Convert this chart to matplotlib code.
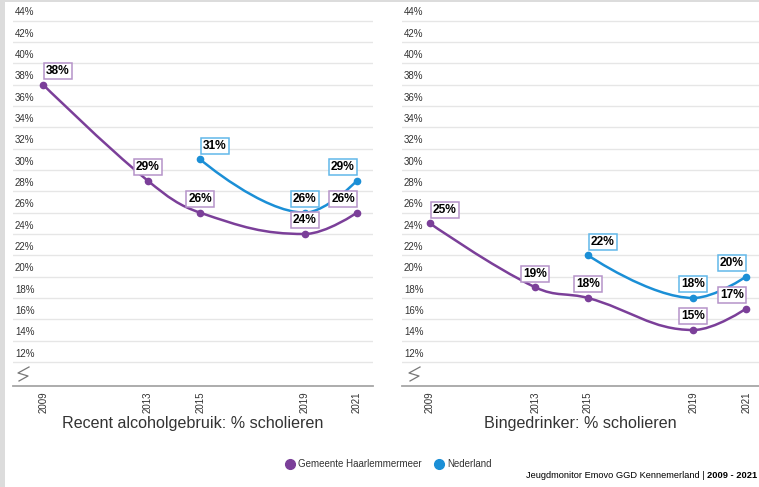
import matplotlib
matplotlib.use("Agg")
import matplotlib.pyplot as plt
from matplotlib.path import Path
from matplotlib.patches import PathPatch, Rectangle
from matplotlib.lines import Line2D
import matplotlib.transforms as mtransforms

plt.rcParams["font.family"] = ["Liberation Sans", "DejaVu Sans"]

# data
years = [2009, 2013, 2015, 2019, 2021]
nl_years = [2015, 2019, 2021]
hm_alcohol = [38, 29, 26, 24, 26]
nl_alcohol = [31, 26, 29]
hm_binge = [25, 19, 18, 15, 17]
nl_binge = [22, 18, 20]
yticks = list(range(12, 46, 2))
titles = ["Recent alcoholgebruik: % scholieren", "Bingedrinker: % scholieren"]
series_names = ["Gemeente Haarlemmermeer", "Nederland"]

PURPLE = "#7b3f99"
PURPLE_BOX = "#b593c9"
BLUE = "#1b8fd6"
BLUE_BOX = "#62b8e9"
TXT = "#333333"

W, H = 759, 487


def spline_path(xs, ys, smoothing=1.5):
    """Highcharts style spline as cubic bezier path."""
    n = len(xs)
    left, right = [None] * n, [None] * n
    denom = smoothing + 1
    for i in range(1, n - 1):
        px, py = xs[i], ys[i]
        lx, ly = xs[i - 1], ys[i - 1]
        nx, ny = xs[i + 1], ys[i + 1]
        lcx = (smoothing * px + lx) / denom
        lcy = (smoothing * py + ly) / denom
        rcx = (smoothing * px + nx) / denom
        rcy = (smoothing * py + ny) / denom
        corr = 0.0
        if rcx != lcx:
            corr = (rcy - lcy) * (rcx - px) / (rcx - lcx) + py - rcy
        lcy += corr
        rcy += corr
        if lcy > ly and lcy > py:
            lcy = max(ly, py)
            rcy = 2 * py - lcy
        elif lcy < ly and lcy < py:
            lcy = min(ly, py)
            rcy = 2 * py - lcy
        if rcy > ny and rcy > py:
            rcy = max(ny, py)
            lcy = 2 * py - rcy
        elif rcy < ny and rcy < py:
            rcy = min(ny, py)
            lcy = 2 * py - rcy
        left[i] = (lcx, lcy)
        right[i] = (rcx, rcy)
    verts = [(xs[0], ys[0])]
    codes = [Path.MOVETO]
    for i in range(1, n):
        c1 = right[i - 1] or (xs[i - 1], ys[i - 1])
        c2 = left[i] or (xs[i], ys[i])
        verts += [c1, c2, (xs[i], ys[i])]
        codes += [Path.CURVE4] * 3
    return Path(verts, codes)


def draw_series(ax, xs, ys, color, boxcolor):
    ax.add_patch(PathPatch(spline_path(xs, ys), fill=False, edgecolor=color,
                           lw=1.8, zorder=3, capstyle="round"))
    ax.plot(xs, ys, "o", color=color, ms=4.5, zorder=4)
    for i, (x, y) in enumerate(zip(xs, ys)):
        if i == 0:
            ha, dx = "left", 2.0
        elif i == len(xs) - 1:
            ha, dx = "right", -1.5
        else:
            ha, dx = "center", 0
        ax.annotate(f"{y}%", (x, y), xytext=(dx, 5.5), textcoords="offset points",
                    ha=ha, va="bottom", fontsize=8.6, fontweight="bold", color="black",
                    zorder=5,
                    bbox=dict(boxstyle="square,pad=0.17", fc="white", ec=boxcolor, lw=1.1))


fig = plt.figure(figsize=(W / 100, H / 100), dpi=100, facecolor="#dcdcdc")
fig.add_artist(Rectangle((5 / W, 0), 1, 1 - 2 / H, transform=fig.transFigure,
                         fc="white", ec="none", zorder=0))

panels = [
    (13, 373, 2007.85, 2021.61, hm_alcohol, nl_alcohol),
    (402, 759, 2007.94, 2021.49, hm_binge, nl_binge),
]
for k, (x0, x1, xmin, xmax, hm, nl) in enumerate(panels):
    ax = fig.add_axes([x0 / W, (H - 386) / H, (x1 - x0) / W, 376 / H])
    ax.patch.set_alpha(0)
    ax.set_xlim(xmin, xmax)
    ax.set_ylim(9.75, 45.0)
    for s in ["top", "right", "left"]:
        ax.spines[s].set_visible(False)
    ax.spines["bottom"].set_color("#a6a6a6")
    ax.spines["bottom"].set_linewidth(1.3)
    ax.set_yticks(yticks)
    ax.yaxis.grid(True, color="#e6e6e6", lw=1.0)
    ax.set_axisbelow(True)
    ax.tick_params(axis="y", length=0, labelleft=False)
    trans = mtransforms.blended_transform_factory(ax.transAxes, ax.transData)
    for v in yticks:
        ax.annotate(f"{v}%", (2 / (x1 - x0), v), xycoords=trans, xytext=(0, 2.5),
                    textcoords="offset points", ha="left", va="bottom",
                    fontsize=7, color=TXT)
    # axis break symbol
    zx = [29, 18, 28, 19]
    zy = [367, 373, 376, 381]
    ax.add_artist(Line2D([(x - 13) / (x1 - x0) + (0 if k == 0 else 2 / (x1 - x0)) for x in zx],
                         [(386 - y) / 376 for y in zy], transform=ax.transAxes,
                         color="#777777", lw=0.9, clip_on=False))
    ax.set_xticks(years)
    ax.set_xticklabels([str(y) for y in years], rotation=90, fontsize=7, color=TXT)
    ax.tick_params(axis="x", length=0, pad=4)
    ax.set_xlabel(titles[k], fontsize=11.6, color=TXT, labelpad=2)
    draw_series(ax, years, hm, PURPLE, PURPLE_BOX)
    draw_series(ax, nl_years, nl, BLUE, BLUE_BOX)

# legend
for (cx, tx, color, name) in [(290, 298, PURPLE, series_names[0]),
                              (439, 447, BLUE, series_names[1])]:
    fig.add_artist(Line2D([cx / W], [1 - 464 / H], transform=fig.transFigure,
                          marker="o", ms=7, color=color, ls="none"))
    fig.text(tx / W, 1 - 464 / H, name, fontsize=7.05, color=TXT, va="center", ha="left")

# credit line, right aligned so it stays inside the picture
t2 = fig.text(757 / W, 1 - 476 / H, "2009 - 2021", fontsize=6.7, color="black",
              fontweight="bold", va="center", ha="right")
fig.canvas.draw()
bb = t2.get_window_extent(fig.canvas.get_renderer())
fig.text(bb.x0 / W, 1 - 476 / H, "Jeugdmonitor Emovo GGD Kennemerland | ",
         fontsize=6.7, color="black", va="center", ha="right")

fig.savefig("out.png", dpi=100, facecolor=fig.get_facecolor())
